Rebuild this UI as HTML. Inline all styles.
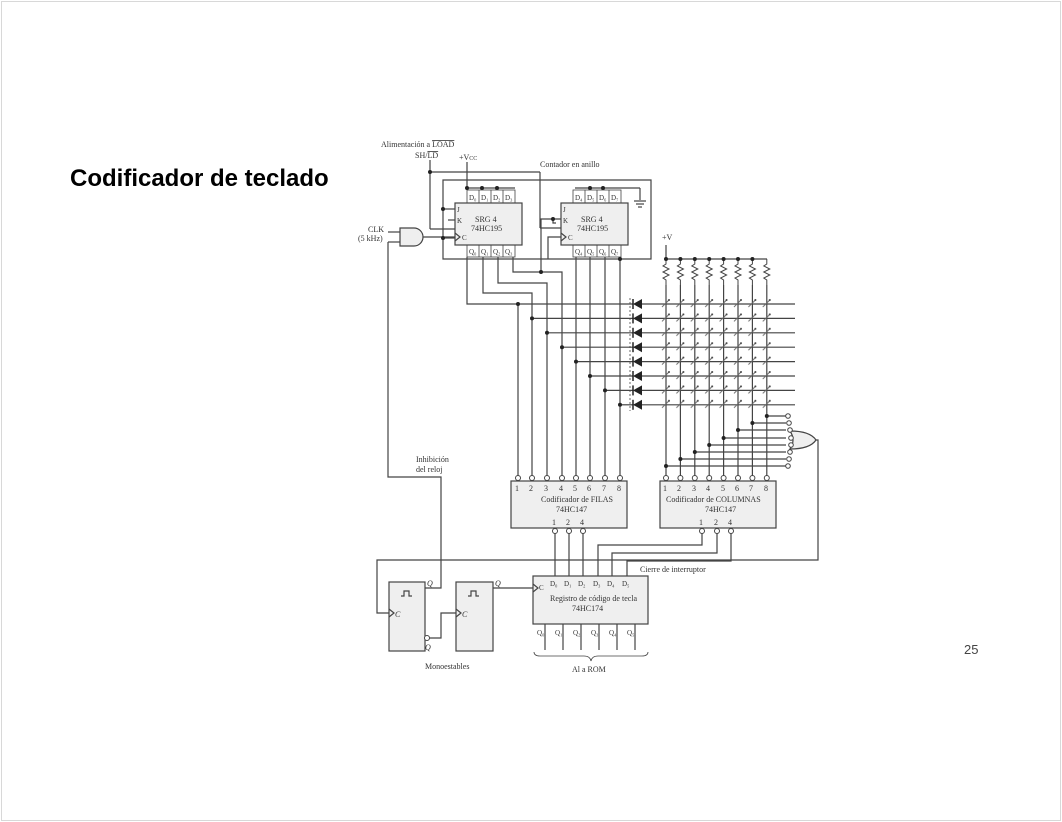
<!DOCTYPE html>
<html><head><meta charset="utf-8"><style>
html,body{margin:0;padding:0;background:#fff;}
body{width:1062px;height:822px;position:relative;overflow:hidden;font-family:"Liberation Sans",sans-serif;}
.frame{position:absolute;left:1px;top:1px;width:1058px;height:818px;border:1px solid #d8d8d8;}
.title{position:absolute;left:70px;top:165px;font-size:24px;font-weight:bold;color:#000;}
.num{position:absolute;left:964px;top:642px;font-size:13px;color:#444;}
svg{position:absolute;left:0;top:0;}
svg text{font-family:"Liberation Serif",serif;fill:#333;}
</style></head><body>
<div class="frame"></div>
<div class="title">Codificador de teclado</div>
<div class="num">25</div>
<svg width="1062" height="822" viewBox="0 0 1062 822">
<defs>
<pattern id="swp" x="659" y="297" width="14.4" height="14.4" patternUnits="userSpaceOnUse">
<line x1="3" y1="10" x2="10" y2="3" stroke="#666" stroke-width="1"/>
<circle cx="10" cy="3" r="1" fill="#444"/>
</pattern>
<g id="res"><polyline points="0,0 0,5 -3,7 3,10 -3,13 3,16 -3,19 0,21 0,26" fill="none" stroke="#444" stroke-width="1"/></g>
<g id="dio"><polygon points="642,-5 642,5 633,0" fill="#222"/><line x1="633" y1="-5" x2="633" y2="5" stroke="#222" stroke-width="1.5"/></g>
</defs>
<g stroke="#444" stroke-width="1.2" fill="none">
<line x1="430" y1="160" x2="430" y2="229"/>
<line x1="430" y1="229" x2="455" y2="229"/>
<line x1="430" y1="172" x2="540" y2="172"/>
<line x1="540" y1="172" x2="540" y2="228"/>
<line x1="540" y1="228" x2="561" y2="228"/>
<line x1="467" y1="162" x2="467" y2="190"/>
<line x1="467" y1="188" x2="515" y2="188"/>
<line x1="575" y1="188" x2="640" y2="188"/>
<line x1="640" y1="188" x2="640" y2="200"/>
<line x1="634" y1="201" x2="646" y2="201"/><line x1="636" y1="204" x2="644" y2="204"/><line x1="638" y1="207" x2="642" y2="207"/>
<polyline points="443,238 443,180 651,180 651,259 443,259 443,238"/>
<line x1="443" y1="209" x2="455" y2="209"/>
<line x1="443" y1="238" x2="455" y2="238"/>
<polyline points="455,220 448,220"/>
<polyline points="541,272 541,219 561,219"/>
<polyline points="553,219 553,223 556,223"/>
<polyline points="561,237 548,237 548,259"/>
<rect x="455" y="203" width="67" height="42" fill="#efefef"/>
<rect x="561" y="203" width="67" height="42" fill="#efefef"/>
<g stroke-width="0.8">
<rect x="467" y="190" width="48" height="13"/><line x1="479" y1="190" x2="479" y2="203"/><line x1="491" y1="190" x2="491" y2="203"/><line x1="503" y1="190" x2="503" y2="203"/>
<rect x="573" y="190" width="48" height="13"/><line x1="585" y1="190" x2="585" y2="203"/><line x1="597" y1="190" x2="597" y2="203"/><line x1="609" y1="190" x2="609" y2="203"/>
<rect x="467" y="245" width="48" height="12"/><line x1="479" y1="245" x2="479" y2="257"/><line x1="491" y1="245" x2="491" y2="257"/><line x1="503" y1="245" x2="503" y2="257"/>
<rect x="573" y="245" width="48" height="12"/><line x1="585" y1="245" x2="585" y2="257"/><line x1="597" y1="245" x2="597" y2="257"/><line x1="609" y1="245" x2="609" y2="257"/>
</g>
<path d="M400,228 H414 A9,9 0 0 1 414,246 H400 Z" fill="#efefef"/>
<line x1="388" y1="232" x2="400" y2="232"/>
<line x1="388" y1="242" x2="400" y2="242"/>
<line x1="423" y1="237" x2="455" y2="237"/>
<polyline points="388,242 388,477 441,477 441,588 425,588"/>
<polyline points="467,257 467,304 633,304"/>
<polyline points="483,257 483,293 532,293 532,478"/>
<polyline points="498,257 498,283 547,283 547,478"/>
<polyline points="513,257 513,272 562,272 562,478"/>
<line x1="518" y1="304" x2="518" y2="478"/>
<line x1="576" y1="257" x2="576" y2="478"/>
<line x1="590" y1="257" x2="590" y2="478"/>
<line x1="605" y1="257" x2="605" y2="478"/>
<line x1="620" y1="257" x2="620" y2="478"/>
<line x1="532" y1="318.4" x2="633" y2="318.4"/>
<line x1="547" y1="332.8" x2="633" y2="332.8"/>
<line x1="562" y1="347.2" x2="633" y2="347.2"/>
<line x1="576" y1="361.6" x2="633" y2="361.6"/>
<line x1="590" y1="376" x2="633" y2="376"/>
<line x1="605" y1="390.4" x2="633" y2="390.4"/>
<line x1="620" y1="404.8" x2="633" y2="404.8"/>
<line x1="642" y1="304" x2="795" y2="304"/>
<line x1="642" y1="318.4" x2="795" y2="318.4"/>
<line x1="642" y1="332.8" x2="795" y2="332.8"/>
<line x1="642" y1="347.2" x2="795" y2="347.2"/>
<line x1="642" y1="361.6" x2="795" y2="361.6"/>
<line x1="642" y1="376" x2="795" y2="376"/>
<line x1="642" y1="390.4" x2="795" y2="390.4"/>
<line x1="642" y1="404.8" x2="795" y2="404.8"/>
<line x1="630" y1="298" x2="630" y2="411" stroke-dasharray="2,2" stroke-width="0.8"/>
<line x1="666" y1="245" x2="666" y2="259"/>
<line x1="666" y1="259" x2="767" y2="259"/>
<g>
<line x1="666" y1="285" x2="666" y2="478"/><line x1="680.4" y1="285" x2="680.4" y2="478"/><line x1="694.8" y1="285" x2="694.8" y2="478"/><line x1="709.2" y1="285" x2="709.2" y2="478"/><line x1="723.6" y1="285" x2="723.6" y2="478"/><line x1="738" y1="285" x2="738" y2="478"/><line x1="752.4" y1="285" x2="752.4" y2="478"/><line x1="766.8" y1="285" x2="766.8" y2="478"/>
</g>
<line x1="666" y1="466" x2="786" y2="466"/>
<line x1="680.4" y1="459" x2="786" y2="459"/>
<line x1="694.8" y1="452" x2="786" y2="452"/>
<line x1="709.2" y1="445" x2="786" y2="445"/>
<line x1="723.6" y1="438" x2="786" y2="438"/>
<line x1="738" y1="430" x2="786" y2="430"/>
<line x1="752.4" y1="423" x2="786" y2="423"/>
<line x1="766.8" y1="416" x2="786" y2="416"/>
<path d="M790,431 Q810,431 816,440 Q810,449 790,449 Q796,440 790,431 Z" fill="#efefef"/>
<polyline points="816,440 818,440 818,560 377,560 377,613 389,613"/>
<rect x="511" y="481" width="116" height="47" fill="#efefef"/>
<rect x="660" y="481" width="116" height="47" fill="#efefef"/>
<line x1="555" y1="531" x2="555" y2="576"/>
<line x1="569" y1="531" x2="569" y2="576"/>
<line x1="583" y1="531" x2="583" y2="576"/>
<polyline points="702,531 702,545 598,545 598,576"/>
<polyline points="717,531 717,553 612,553 612,576"/>
<polyline points="731,531 731,561 627,561 627,576"/>
<rect x="533" y="576" width="115" height="48" fill="#efefef"/>
<line x1="545" y1="624" x2="545" y2="650"/><line x1="563" y1="624" x2="563" y2="650"/><line x1="581" y1="624" x2="581" y2="650"/><line x1="599" y1="624" x2="599" y2="650"/><line x1="617" y1="624" x2="617" y2="650"/><line x1="635" y1="624" x2="635" y2="650"/>
<path d="M534,652 q0,4 6,4 h44 q6,0 7,5 q1,-5 7,-5 h44 q6,0 6,-4" stroke-width="0.8"/>
<rect x="389" y="582" width="36" height="69" fill="#efefef"/>
<rect x="456" y="582" width="37" height="69" fill="#efefef"/>
<polyline points="429,638 441,638 441,613 456,613"/>
<line x1="493" y1="588" x2="533" y2="588"/>
<polyline points="401,596 404,596 404,591 409,591 409,596 412,596" stroke-width="1.2"/>
<polyline points="468,596 471,596 471,591 476,591 476,596 479,596" stroke-width="1.2"/>
<polyline points="389,609 394,613 389,617"/>
<polyline points="456,609 461,613 456,617"/>
<polyline points="533,584 538,588 533,592"/>
<polyline points="455,233 460,237 455,241"/>
<polyline points="561,233 566,237 561,241"/>
</g>
<circle cx="427" cy="638" r="2.5" fill="#fff" stroke="#444"/>
<use href="#res" x="666" y="259"/><use href="#res" x="680.4" y="259"/><use href="#res" x="694.8" y="259"/><use href="#res" x="709.2" y="259"/><use href="#res" x="723.6" y="259"/><use href="#res" x="738" y="259"/><use href="#res" x="752.4" y="259"/><use href="#res" x="766.8" y="259"/>
<use href="#dio" y="304"/><use href="#dio" y="318.4"/><use href="#dio" y="332.8"/><use href="#dio" y="347.2"/><use href="#dio" y="361.6"/><use href="#dio" y="376"/><use href="#dio" y="390.4"/><use href="#dio" y="404.8"/>
<rect x="659" y="297" width="115.2" height="115.2" fill="url(#swp)"/>
<g fill="#222">
<circle cx="518" cy="304" r="2"/><circle cx="532" cy="318.4" r="2"/><circle cx="547" cy="332.8" r="2"/><circle cx="562" cy="347.2" r="2"/><circle cx="576" cy="361.6" r="2"/><circle cx="590" cy="376" r="2"/><circle cx="605" cy="390.4" r="2"/><circle cx="620" cy="404.8" r="2"/>
<circle cx="620" cy="259" r="2"/><circle cx="541" cy="272" r="2"/><circle cx="443" cy="209" r="2"/><circle cx="443" cy="238" r="2"/><circle cx="430" cy="172" r="2"/>
<circle cx="467" cy="188" r="2"/><circle cx="482" cy="188" r="2"/><circle cx="497" cy="188" r="2"/><circle cx="590" cy="188" r="2"/><circle cx="603" cy="188" r="2"/><circle cx="553" cy="219" r="2"/>
<circle cx="666" cy="259" r="2"/><circle cx="680.4" cy="259" r="2"/><circle cx="694.8" cy="259" r="2"/><circle cx="709.2" cy="259" r="2"/><circle cx="723.6" cy="259" r="2"/><circle cx="738" cy="259" r="2"/><circle cx="752.4" cy="259" r="2"/>
<circle cx="666" cy="466" r="2"/><circle cx="680.4" cy="459" r="2"/><circle cx="694.8" cy="452" r="2"/><circle cx="709.2" cy="445" r="2"/><circle cx="723.6" cy="438" r="2"/><circle cx="738" cy="430" r="2"/><circle cx="752.4" cy="423" r="2"/><circle cx="766.8" cy="416" r="2"/>
</g>
<g fill="#fff" stroke="#444" stroke-width="1">
<circle cx="518" cy="478" r="2.5"/><circle cx="532" cy="478" r="2.5"/><circle cx="547" cy="478" r="2.5"/><circle cx="562" cy="478" r="2.5"/><circle cx="576" cy="478" r="2.5"/><circle cx="590" cy="478" r="2.5"/><circle cx="605" cy="478" r="2.5"/><circle cx="620" cy="478" r="2.5"/>
<circle cx="666" cy="478" r="2.5"/><circle cx="680.4" cy="478" r="2.5"/><circle cx="694.8" cy="478" r="2.5"/><circle cx="709.2" cy="478" r="2.5"/><circle cx="723.6" cy="478" r="2.5"/><circle cx="738" cy="478" r="2.5"/><circle cx="752.4" cy="478" r="2.5"/><circle cx="766.8" cy="478" r="2.5"/>
<circle cx="555" cy="531" r="2.5"/><circle cx="569" cy="531" r="2.5"/><circle cx="583" cy="531" r="2.5"/>
<circle cx="702" cy="531" r="2.5"/><circle cx="717" cy="531" r="2.5"/><circle cx="731" cy="531" r="2.5"/>
<circle cx="788" cy="416" r="2.3"/><circle cx="789" cy="423" r="2.3"/><circle cx="790" cy="430" r="2.3"/><circle cx="791" cy="438" r="2.3"/><circle cx="791" cy="445" r="2.3"/><circle cx="790" cy="452" r="2.3"/><circle cx="789" cy="459" r="2.3"/><circle cx="788" cy="466" r="2.3"/>
</g>
<g font-size="8">
<text x="381" y="147">Alimentación a <tspan text-decoration="overline">LOAD</tspan></text>
<text x="415" y="158">SH/<tspan text-decoration="overline">LD</tspan></text>
<text x="459" y="160">+V<tspan font-size="6">CC</tspan></text>
<text x="540" y="167">Contador en anillo</text>
<text x="368" y="232">CLK</text>
<text x="358" y="241">(5 kHz)</text>
<text x="475" y="222">SRG 4</text><text x="471" y="231">74HC195</text>
<text x="581" y="222">SRG 4</text><text x="577" y="231">74HC195</text>
<text x="457" y="212" font-size="7">J</text><text x="457" y="223" font-size="7">K</text><text x="462" y="240" font-size="7">C</text>
<text x="563" y="212" font-size="7">J</text><text x="563" y="223" font-size="7">K</text><text x="568" y="240" font-size="7">C</text>
<g font-size="7">
<text x="469" y="200">D₀</text><text x="481" y="200">D₁</text><text x="493" y="200">D₂</text><text x="505" y="200">D₃</text>
<text x="575" y="200">D₄</text><text x="587" y="200">D₅</text><text x="599" y="200">D₆</text><text x="611" y="200">D₇</text>
<text x="469" y="254" fill="#999">Q₀</text><text x="481" y="254" fill="#999">Q₁</text><text x="493" y="254" fill="#999">Q₂</text><text x="505" y="254" fill="#999">Q₃</text>
<text x="575" y="254" fill="#999">Q₄</text><text x="587" y="254" fill="#999">Q₅</text><text x="599" y="254" fill="#999">Q₆</text><text x="611" y="254" fill="#999">Q₇</text>
</g>
<text x="662" y="240">+V</text>
<text x="416" y="462">Inhibición</text>
<text x="416" y="472">del reloj</text>
<g font-size="8">
<text x="515" y="491">1</text><text x="529" y="491">2</text><text x="544" y="491">3</text><text x="559" y="491">4</text><text x="573" y="491">5</text><text x="587" y="491">6</text><text x="602" y="491">7</text><text x="617" y="491">8</text>
<text x="663" y="491">1</text><text x="677" y="491">2</text><text x="692" y="491">3</text><text x="706" y="491">4</text><text x="721" y="491">5</text><text x="735" y="491">6</text><text x="749" y="491">7</text><text x="764" y="491">8</text>
</g>
<text x="541" y="502">Codificador de FILAS</text>
<text x="556" y="512">74HC147</text>
<text x="552" y="525">1</text><text x="566" y="525">2</text><text x="580" y="525">4</text>
<text x="666" y="502">Codificador de COLUMNAS</text>
<text x="705" y="512">74HC147</text>
<text x="699" y="525">1</text><text x="714" y="525">2</text><text x="728" y="525">4</text>
<text x="640" y="572">Cierre de interruptor</text>
<g font-size="7">
<text x="550" y="586" fill="#999">D₀</text><text x="564" y="586" fill="#999">D₁</text><text x="578" y="586" fill="#999">D₂</text><text x="593" y="586" fill="#999">D₃</text><text x="607" y="586" fill="#999">D₄</text><text x="622" y="586" fill="#999">D₅</text>
<text x="537" y="635" fill="#999">Q₀</text><text x="555" y="635" fill="#999">Q₁</text><text x="573" y="635" fill="#999">Q₂</text><text x="591" y="635" fill="#999">Q₃</text><text x="609" y="635" fill="#999">Q₄</text><text x="627" y="635" fill="#999">Q₅</text>
</g>
<text x="539" y="590" font-size="7">C</text>
<text x="550" y="601">Registro de código de tecla</text>
<text x="572" y="611">74HC174</text>
<text x="395" y="617" font-size="8" font-style="italic">C</text>
<text x="462" y="617" font-size="8" font-style="italic">C</text>
<text x="427" y="586" font-size="8" font-style="italic" fill="#999">Q</text>
<text x="495" y="586" font-size="8" font-style="italic" fill="#999">Q</text>
<text x="425" y="650" font-size="8" font-style="italic" fill="#999">Q</text>
<text x="425" y="669">Monoestables</text>
<text x="572" y="672">Al a ROM</text>
</g>
</svg>
</body></html>
